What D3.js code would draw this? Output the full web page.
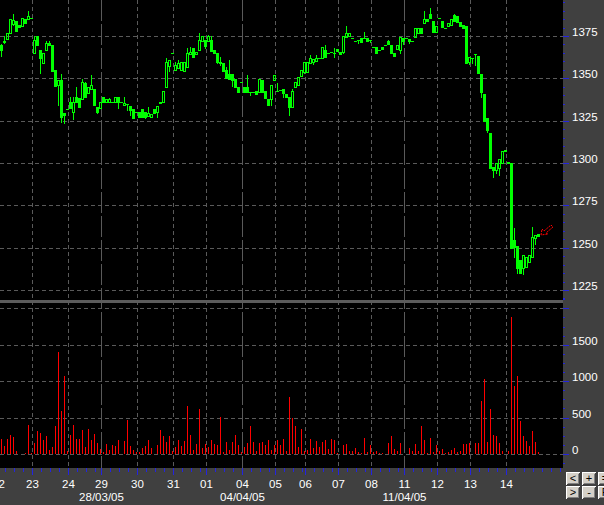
<!DOCTYPE html>
<html><head><meta charset="utf-8">
<script src="https://cdn.jsdelivr.net/npm/d3@7"></script>
<style>html,body{margin:0;padding:0;background:#404040;overflow:hidden}svg{display:block}</style>
</head><body>
<script>
// ---------- DATA ----------
const opens=[1369.7,1371.5,1373.3,1376.6,1382.1,1383.9,1381.5,1381.1,1385.1,1384.9,1385.5,1364.8,1375.0,1366.8,1358.9,1366.8,1371.1,1369.7,1355.0,1346.1,1349.1,1329.8,1331.7,1336.3,1330.4,1339.2,1338.2,1337.6,1347.1,1341.6,1343.5,1343.5,1333.3,1332.3,1338.8,1336.3,1336.3,1336.3,1336.3,1339.2,1336.3,1334.3,1334.9,1333.7,1331.7,1330.4,1330.4,1331.7,1330.4,1327.8,1327.4,1331.7,1330.4,1335.3,1336.3,1344.7,1357.3,1364.8,1355.0,1355.9,1355.0,1354.6,1356.9,1364.4,1367.8,1364.4,1366.8,1372.3,1372.7,1372.3,1372.7,1366.8,1364.8,1359.9,1358.9,1355.0,1352.6,1352.6,1349.5,1344.7,1347.9,1344.7,1344.7,1342.2,1341.8,1342.7,1342.2,1349.1,1342.7,1337.8,1337.6,1349.1,1342.7,1343.1,1343.5,1340.8,1339.2,1333.3,1344.7,1346.1,1351.4,1354.0,1354.0,1358.9,1359.9,1360.5,1361.9,1361.9,1366.8,1365.2,1365.4,1365.2,1367.2,1365.8,1365.8,1374.6,1375.0,1373.7,1372.1,1372.7,1373.7,1373.7,1373.7,1372.7,1368.3,1368.3,1366.8,1368.3,1369.7,1372.1,1369.7,1365.2,1367.2,1366.8,1373.7,1373.7,1373.1,1372.3,1374.6,1376.6,1380.0,1382.9,1384.9,1388.0,1384.1,1377.6,1385.5,1384.1,1380.0,1381.1,1381.5,1387.4,1386.9,1383.5,1381.5,1380.9,1359.5,1361.9,1364.2,1363.2,1352.6,1340.8,1326.4,1317.9,1297.9,1295.9,1296.9,1300.2,1307.3,1300.6,1300.2,1254.6,1251.0,1242.8,1237.8,1238.8,1241.8,1244.7,1255.5,1258.1];
const closes=[1366.8,1371.9,1376.6,1385.1,1384.5,1378.2,1380.6,1385.5,1382.5,1387.0,1385.5,1372.7,1369.7,1361.9,1364.8,1370.7,1369.7,1354.6,1345.5,1349.1,1327.4,1328.4,1331.7,1332.3,1336.3,1336.3,1333.3,1348.1,1339.2,1344.7,1346.1,1334.3,1330.4,1336.3,1336.3,1337.6,1337.6,1336.3,1338.8,1336.3,1336.3,1335.7,1334.9,1331.3,1326.4,1330.4,1327.4,1327.4,1327.4,1329.4,1329.0,1329.4,1333.7,1336.3,1342.6,1359.9,1360.9,1364.8,1357.9,1359.3,1359.9,1359.9,1364.8,1365.8,1362.4,1365.8,1372.7,1375.0,1369.1,1375.0,1366.4,1364.8,1359.9,1358.9,1354.6,1350.0,1349.5,1349.1,1344.7,1342.2,1347.9,1342.2,1342.2,1342.2,1341.8,1340.8,1349.5,1342.2,1338.2,1334.3,1346.1,1352.0,1342.7,1343.1,1341.2,1338.8,1333.3,1342.7,1348.1,1351.0,1355.0,1359.9,1359.9,1361.9,1361.3,1361.9,1361.9,1368.3,1362.4,1365.2,1365.4,1365.2,1366.2,1364.4,1375.0,1376.6,1376.6,1373.7,1372.1,1372.7,1371.7,1373.7,1372.3,1372.7,1368.3,1365.2,1366.8,1367.2,1369.7,1370.3,1364.8,1363.4,1369.7,1374.3,1372.3,1373.7,1372.1,1372.3,1379.6,1380.0,1377.0,1384.9,1384.1,1385.5,1377.6,1380.9,1385.5,1380.2,1380.0,1382.9,1384.9,1384.1,1383.5,1380.9,1379.6,1359.3,1362.4,1361.9,1364.2,1353.4,1342.2,1325.0,1319.5,1296.9,1295.9,1300.2,1302.2,1307.3,1307.7,1299.8,1249.6,1250.6,1237.8,1234.9,1245.7,1244.7,1245.7,1256.5,1257.5,1256.9];
const highs=[1370.0,1375.0,1376.6,1385.1,1388.0,1383.9,1381.5,1385.5,1385.1,1389.8,1385.5,1375.0,1375.0,1366.8,1364.8,1372.3,1372.3,1369.7,1355.0,1349.1,1352.6,1329.8,1331.7,1339.2,1339.2,1344.7,1338.2,1349.5,1348.1,1344.7,1352.0,1343.5,1333.3,1336.3,1338.8,1337.6,1338.2,1336.3,1338.8,1339.2,1336.3,1339.2,1334.9,1333.7,1331.7,1330.4,1330.4,1331.7,1330.4,1333.3,1329.0,1331.7,1333.7,1336.3,1342.6,1361.9,1360.9,1364.8,1359.9,1360.9,1359.9,1359.9,1367.8,1368.7,1367.8,1365.8,1376.6,1375.0,1372.7,1375.6,1375.0,1366.8,1364.8,1362.8,1358.9,1356.9,1360.9,1352.6,1349.5,1344.7,1347.9,1344.7,1352.0,1342.2,1341.8,1342.7,1349.5,1349.1,1342.7,1337.8,1346.1,1352.0,1347.1,1343.1,1343.5,1340.8,1339.2,1343.5,1348.1,1351.0,1355.0,1359.9,1359.9,1363.8,1361.3,1363.8,1361.9,1368.3,1369.7,1365.2,1365.4,1367.8,1367.2,1365.8,1375.0,1380.9,1376.6,1373.7,1372.1,1372.7,1373.7,1377.6,1373.7,1372.7,1368.3,1368.3,1366.8,1368.3,1369.7,1372.7,1369.7,1365.2,1369.7,1374.3,1373.7,1373.7,1373.1,1372.3,1379.6,1380.0,1380.0,1389.8,1384.9,1391.4,1384.1,1380.9,1385.5,1384.1,1380.0,1382.9,1384.9,1388.0,1386.9,1383.5,1381.5,1380.9,1362.4,1361.9,1364.2,1363.2,1352.6,1340.8,1326.4,1317.9,1297.9,1300.2,1302.2,1307.3,1307.7,1300.6,1300.2,1261.5,1251.0,1242.8,1245.7,1244.7,1245.7,1262.0,1257.5,1258.1];
const lows=[1363.4,1370.7,1373.3,1376.6,1381.5,1378.2,1380.6,1381.1,1382.5,1384.9,1385.5,1364.8,1369.7,1353.4,1358.9,1366.8,1369.7,1354.6,1345.5,1334.3,1324.4,1323.5,1331.7,1332.3,1326.0,1336.3,1333.3,1337.6,1339.2,1341.6,1343.5,1334.3,1329.4,1332.3,1336.3,1336.3,1336.3,1336.3,1336.3,1332.3,1336.3,1334.3,1331.3,1328.4,1326.4,1330.4,1327.4,1327.4,1326.4,1327.8,1327.4,1329.4,1327.4,1335.3,1336.3,1344.7,1354.6,1364.8,1355.0,1355.9,1355.0,1354.6,1356.9,1364.4,1362.4,1364.4,1366.8,1372.3,1368.1,1372.3,1366.4,1364.8,1358.9,1357.9,1354.6,1350.0,1349.5,1345.5,1344.7,1342.2,1347.9,1342.2,1342.2,1340.2,1341.8,1340.8,1342.2,1342.2,1338.2,1334.3,1334.3,1349.1,1342.7,1343.1,1338.8,1338.8,1328.4,1333.3,1344.7,1346.1,1351.4,1353.4,1354.0,1358.9,1358.5,1360.5,1361.9,1361.9,1362.4,1365.2,1365.4,1362.4,1366.2,1364.4,1364.8,1374.6,1375.0,1373.7,1372.1,1370.7,1371.7,1373.7,1372.3,1371.7,1368.3,1365.2,1366.8,1367.2,1369.7,1370.3,1364.8,1363.4,1367.2,1365.2,1370.3,1373.7,1370.7,1372.3,1374.6,1376.6,1376.6,1382.9,1384.1,1385.5,1377.6,1377.6,1385.5,1380.2,1380.0,1381.1,1381.5,1384.1,1383.5,1380.9,1379.6,1359.3,1358.5,1358.9,1357.9,1353.4,1339.2,1325.0,1318.5,1296.9,1292.0,1293.9,1293.0,1300.2,1307.3,1299.8,1249.6,1244.7,1234.9,1234.9,1234.5,1238.8,1241.8,1244.7,1252.2,1256.9];
const volumes=[206,114,206,261,238,41,0,0,14,398,18,146,316,288,192,252,55,96,384,1400,590,1071,41,261,398,206,206,330,96,343,192,275,151,69,27,137,55,124,110,192,0,178,467,110,55,27,27,82,110,192,82,0,124,330,247,165,247,41,96,192,110,178,659,261,55,137,618,82,137,96,192,137,124,508,27,165,55,165,261,124,27,96,151,384,165,41,151,165,124,192,55,124,192,124,206,41,783,494,384,96,339,41,55,206,82,178,96,165,192,69,206,192,14,0,124,137,41,41,82,27,14,220,27,124,27,41,14,14,0,151,247,69,41,151,0,0,82,41,137,41,384,192,14,220,27,124,41,69,14,27,55,82,27,41,137,137,151,0,151,151,728,1030,165,618,261,247,151,41,0,41,1881,934,1071,453,247,178,110,316,165,27];
const dayStarts=[11,23,34,46,58,69,81,92,102,113,124,135,146,157,169];
const dayLabels=["23","24","29","30","31","01","04","05","06","07","08","11","12","13","14"];
const firstDayPos=-0.33, firstDayLabel="22";
const weekStarts=[34,81,135];
const weekLabels=["28/03/05","04/04/05","11/04/05"];
const priceTicks=[1375,1350,1325,1300,1275,1250,1225];
const volTicks=[0,500,1000,1500];
const volGrid=[0,500,1000,1500,2000];

// ---------- LAYOUT ----------
const W=604,H=505, plotR=563, axisTop=468;
const GREEN="#00ff00", RED="#ff0000", GRID="#5a5a5a", PANEL="#404040", BLUE="#2424e0";
const FONT="'Liberation Sans', Arial, sans-serif";

const svg=d3.select("body").append("svg").attr("width",W).attr("height",H)
  .attr("shape-rendering","crispEdges");

const x=d3.scaleLinear().domain([0,180]).range([1,541]);
const yP=d3.scaleLinear().domain([1225,1375]).range([290,36]);
const yV=d3.scaleLinear().domain([0,2000]).range([454,308.3]);
const bx=i=>Math.round(x(i));          // bar centre pixel
const gx=d=>Math.round(x(d))-1.5;      // boundary before bar d

// backgrounds
svg.append("rect").attr("width",W).attr("height",H).attr("fill",PANEL);
svg.append("rect").attr("x",0).attr("y",0).attr("width",plotR).attr("height",axisTop).attr("fill","#000");

// horizontal grid
const g=svg.append("g");
priceTicks.forEach(t=>{
  const yy=Math.round(yP(t))+0.5;
  g.append("line").attr("x1",0).attr("x2",plotR).attr("y1",yy).attr("y2",yy)
   .attr("stroke",GRID).attr("stroke-dasharray","4,3");
});
volGrid.forEach(t=>{
  const yy=Math.round(yV(t))+0.5;
  g.append("line").attr("x1",0).attr("x2",plotR).attr("y1",yy).attr("y2",yy)
   .attr("stroke",GRID).attr("stroke-dasharray","4,3");
});
// vertical grid
dayStarts.forEach(d=>{
  const xx=gx(d), wk=weekStarts.includes(d);
  g.append("line").attr("x1",xx).attr("x2",xx).attr("y1",0).attr("y2",axisTop)
   .attr("stroke",GRID).attr("stroke-dasharray",wk?"21,3":"4,3");
});
// separator
svg.append("rect").attr("x",0).attr("y",300).attr("width",plotR).attr("height",3).attr("fill","#5c5c5c");

// volume bars
svg.append("g").selectAll("rect").data(volumes).join("rect")
  .attr("x",(v,i)=>bx(i)).attr("width",1)
  .attr("y",v=>Math.round(yV(v))).attr("height",v=>Math.round(yV(0))-Math.round(yV(v)))
  .attr("fill",RED);

// candles
const cg=svg.append("g");
opens.forEach((o,i)=>{
  const c=closes[i], h=highs[i], l=lows[i], cx=bx(i);
  const yo=Math.round(yP(o)), yc=Math.round(yP(c)), yh=Math.round(yP(h)), yl=Math.round(yP(l));
  const top=Math.min(yo,yc), bot=Math.max(yo,yc);
  if(yh<top) cg.append("rect").attr("x",cx).attr("y",yh).attr("width",1).attr("height",top-yh).attr("fill",GREEN);
  if(yl>bot) cg.append("rect").attr("x",cx).attr("y",bot+1).attr("width",1).attr("height",yl-bot).attr("fill",GREEN);
  if(c>o && yo-yc>=2){
    cg.append("rect").attr("x",cx-0.5).attr("y",yc+0.5).attr("width",2).attr("height",yo-yc)
      .attr("fill","none").attr("stroke",GREEN);
  } else if(c<o && yc-yo>=1){
    cg.append("rect").attr("x",cx-1).attr("y",yo).attr("width",3).attr("height",yc-yo+1).attr("fill",GREEN);
  } else {
    cg.append("rect").attr("x",cx-1).attr("y",top).attr("width",3).attr("height",Math.max(1,bot-top+1)).attr("fill",GREEN);
  }
});

// red arrow marker next to last bar
{
  const last=closes.length-1;
  const tx=bx(last)+3, ty=Math.round(yP(closes[last]))-1;
  const pts=[[0,0],[1,-6],[3,-4],[10,-10],[12,-8],[5,-2],[7,-1]].map(p=>[tx+p[0],ty+p[1]]);
  svg.append("path").attr("d",d3.line()(pts)+"Z").attr("fill","none").attr("stroke",RED)
    .attr("stroke-width",1).attr("stroke-dasharray","2,1").attr("shape-rendering","auto");
}

// right axis ticks
const ag=svg.append("g");
d3.range(1220,1400,5).forEach(t=>{
  const yy=Math.round(yP(t))+0.5, maj=t%25===0;
  ag.append("line").attr("x1",plotR).attr("x2",plotR+(maj?6:2)).attr("y1",yy).attr("y2",yy).attr("stroke",BLUE);
});
d3.range(-125,2300,125).forEach(t=>{
  const yy=Math.round(yV(t))+0.5, maj=t%500===0;
  if(yy>axisTop) return;
  ag.append("line").attr("x1",plotR).attr("x2",plotR+(maj?6:2)).attr("y1",yy).attr("y2",yy).attr("stroke",BLUE);
});
priceTicks.forEach(t=>{
  ag.append("text").attr("x",572).attr("y",Math.round(yP(t))).text(t)
    .attr("fill","#fff").attr("font-family",FONT).attr("font-size",11.5);
});
volTicks.forEach(t=>{
  ag.append("text").attr("x",572).attr("y",Math.round(yV(t))).text(t)
    .attr("fill","#fff").attr("font-family",FONT).attr("font-size",11.5);
});

// bottom axis ticks
const starts=[-1].concat(dayStarts);
dayStarts.forEach(d=>{
  ag.append("line").attr("x1",gx(d)).attr("x2",gx(d)).attr("y1",axisTop).attr("y2",axisTop+7).attr("stroke",BLUE).attr("stroke-width",1.5);
});
// minor ticks every 3 bars inside each day
dayStarts.forEach((d,k)=>{
  const next=k<dayStarts.length-1?dayStarts[k+1]:190;
  for(let m=d+3;m<next && gx(m)<plotR;m+=3)
    ag.append("line").attr("x1",gx(m)).attr("x2",gx(m)).attr("y1",axisTop).attr("y2",axisTop+4).attr("stroke",BLUE);
});
for(let m=dayStarts[0]-3;m>=0;m-=3)
  ag.append("line").attr("x1",gx(m)).attr("x2",gx(m)).attr("y1",axisTop).attr("y2",axisTop+4).attr("stroke",BLUE);

dayLabels.forEach((lab,k)=>{
  ag.append("text").attr("x",gx(dayStarts[k])).attr("y",488).attr("text-anchor","middle").text(lab)
    .attr("fill","#fff").attr("font-family",FONT).attr("font-size",11.5);
});
ag.append("text").attr("x",x(firstDayPos)-1.5).attr("y",488).attr("text-anchor","middle").text(firstDayLabel)
  .attr("fill","#fff").attr("font-family",FONT).attr("font-size",11.5);
weekLabels.forEach((lab,k)=>{
  ag.append("text").attr("x",gx(weekStarts[k])).attr("y",501).attr("text-anchor","middle").text(lab)
    .attr("fill","#fff").attr("font-family",FONT).attr("font-size",11.5);
});

// buttons (UI)
const buttons=[["<",566,472],["+",582,472],["=",598,472],[">",566,486],["-",582,486],["F",598,486]];
const bg=svg.append("g");
buttons.forEach(([t,bxp,byp])=>{
  const w=14,h=13;
  bg.append("rect").attr("x",bxp).attr("y",byp).attr("width",w).attr("height",h).attr("fill","#d4d0c8");
  bg.append("path").attr("d",`M${bxp+0.5},${byp+h-0.5}V${byp+0.5}H${bxp+w-0.5}`).attr("fill","none").attr("stroke","#fff");
  bg.append("path").attr("d",`M${bxp+0.5},${byp+h-0.5}H${bxp+w-0.5}V${byp+0.5}`).attr("fill","none").attr("stroke","#404040");
  bg.append("path").attr("d",`M${bxp+1.5},${byp+h-1.5}H${bxp+w-1.5}V${byp+1.5}`).attr("fill","none").attr("stroke","#808080");
  bg.append("text").attr("x",bxp+w/2).attr("y",byp+10).attr("text-anchor","middle").text(t)
    .attr("fill","#000").attr("font-family",FONT).attr("font-size",11);
});
</script>
</body></html>
